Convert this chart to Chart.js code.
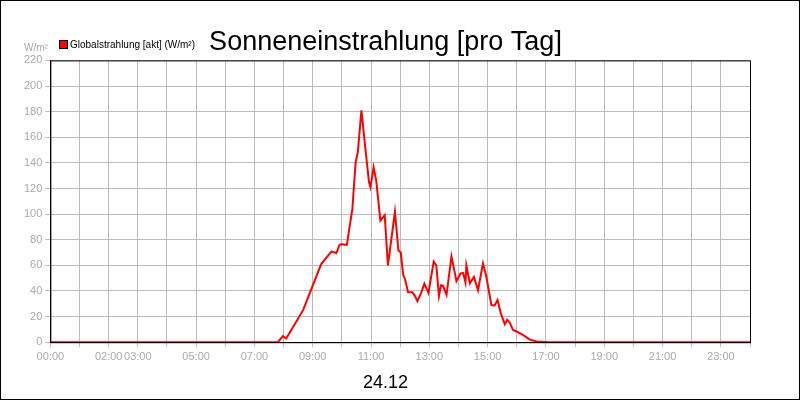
<!DOCTYPE html>
<html>
<head>
<meta charset="utf-8">
<script src="https://cdn.jsdelivr.net/npm/chart.js@4"></script>
<style>
  html, body { margin: 0; padding: 0; background: #fff; }
  #wrap { width: 798px; height: 398px; border: 1px solid #000; }
</style>
</head>
<body>
<div id="wrap"><canvas id="chart" width="798" height="398"></canvas></div>
<script>
// data (hour of day, W/m²)
const hours = [0, 7.8, 7.98, 8.09, 8.67, 9.29, 9.64, 9.81, 9.92, 10.0, 10.17, 10.36, 10.47, 10.55, 10.67,
  10.84, 10.93, 10.98, 11.09, 11.18, 11.32, 11.47, 11.58, 11.82, 11.94, 12.02, 12.1, 12.17, 12.27, 12.42,
  12.5, 12.59, 12.72, 12.83, 12.97, 13.15, 13.24, 13.33, 13.4, 13.47, 13.59, 13.76, 13.93, 14.07, 14.16,
  14.24, 14.27, 14.39, 14.53, 14.67, 14.84, 14.95, 15.13, 15.24, 15.34, 15.45, 15.59, 15.67, 15.76, 15.87,
  16.04, 16.22, 16.45, 16.68, 17.1, 24];
const radiation = [0, 0, 4.7, 2.9, 25, 61, 70.7, 69.6, 76, 76.5, 76, 104, 140, 149, 181,
  144, 125, 121, 136.6, 126, 95, 99, 60, 102, 71.5, 70, 53, 49, 39, 39,
  36.4, 32, 38.5, 45.6, 38.5, 63, 60, 36, 44.5, 44, 37, 67, 47.7, 53.7, 54,
  46.6, 60, 46, 51, 40.6, 61.5, 51.7, 29, 28.7, 33, 22.7, 14, 17.5, 15.4, 9.5,
  7.8, 5.5, 2, 0.5, 0, 0];
const tickHours = [0, 2, 3, 5, 7, 9, 11, 13, 15, 17, 19, 21, 23];
const seriesName = 'Globalstrahlung [akt] (W/m²)';

const points = hours.map((h, i) => ({ x: h, y: radiation[i] }));
const font = '"Liberation Sans", Arial, sans-serif';

// plot frame, unit label and the small legend in the top-left corner
const extras = {
  id: 'extras',
  afterDraw(chart) {
    const { ctx, chartArea: a } = chart;
    ctx.save();
    ctx.strokeStyle = '#000';
    ctx.lineWidth = 1;
    ctx.strokeRect(a.left + 0.5, a.top + 0.5, a.right - a.left, a.bottom - a.top);
    ctx.font = '10px ' + font;
    ctx.textBaseline = 'middle';
    ctx.fillStyle = '#aaa';
    ctx.fillText('W/m²', 23, 47);
    ctx.fillStyle = '#ff0000';
    ctx.fillRect(58, 39, 8, 8);
    ctx.strokeRect(58.5, 39.5, 8, 8);
    ctx.fillStyle = '#000';
    ctx.fillText(seriesName, 69, 44);
    ctx.restore();
  }
};

new Chart(document.getElementById('chart'), {
  type: 'line',
  data: {
    datasets: [{
      label: seriesName,
      data: points,
      borderColor: '#ff0000',
      borderWidth: 2,
      pointRadius: 0,
      tension: 0
    }]
  },
  options: {
    responsive: false,
    animation: false,
    layout: { padding: { left: 20, right: 49, top: 22, bottom: 1 } },
    plugins: {
      title: {
        display: true,
        text: 'Sonneneinstrahlung [pro Tag]',
        color: '#000',
        font: { family: font, size: 27, weight: 'normal' },
        padding: { top: 3, bottom: 2 }
      },
      subtitle: {
        display: true,
        position: 'bottom',
        text: '24.12',
        color: '#000',
        font: { family: font, size: 18 },
        padding: { top: 6, bottom: 4 }
      },
      legend: { display: false },
      tooltip: { enabled: false }
    },
    scales: {
      x: {
        type: 'linear', min: 0, max: 24,
        afterBuildTicks: s => { s.ticks = Array.from({ length: 25 }, (_, i) => ({ value: i })); },
        ticks: {
          autoSkip: false, maxRotation: 0, color: '#aaa',
          font: { family: font, size: 11 },
          callback: v => tickHours.includes(v) ? String(v).padStart(2, '0') + ':00' : ''
        },
        grid: { color: '#bbb', tickLength: 5 },
        border: { color: '#000' }
      },
      y: {
        min: 0, max: 220,
        ticks: { stepSize: 20, color: '#aaa', font: { family: font, size: 11 } },
        grid: { color: '#bbb', tickLength: 5 },
        border: { color: '#000' }
      }
    }
  },
  plugins: [extras]
});
</script>
</body>
</html>
